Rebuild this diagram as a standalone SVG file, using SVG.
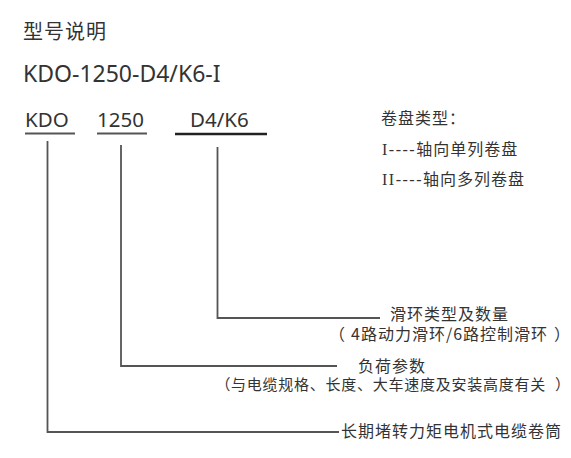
<svg xmlns="http://www.w3.org/2000/svg" width="571" height="458" viewBox="0 0 571 458">
<style>
text{fill:#333;font-family:"Noto Sans CJK SC","Noto Sans",sans-serif;}
.lat{font-family:"Noto Sans","Open Sans",sans-serif;}
.cn{font-size:16px;letter-spacing:1px;}
.cs{font-size:15px;letter-spacing:0.75px;}
.ser{font-family:"Liberation Serif",serif;letter-spacing:1.5px;}
.ns{letter-spacing:0;}
.ul{stroke:#555;stroke-width:2;fill:none;}
.ulb{stroke:#222;stroke-width:2.6;fill:none;}
.conn{stroke:#555;stroke-width:1.8;fill:none;}
</style>
<rect width="571" height="458" fill="#fff"/>
<g id="title"><text x="23" y="39" font-size="20" letter-spacing="1">型号说明</text></g>
<g id="model"><text class="lat" x="23" y="82" font-size="23">KDO-1250-D4/K6-I</text></g>
<g id="seg-kdo"><text class="lat" x="25" y="127" font-size="20.5">KDO</text><line class="ul" x1="25" y1="133.5" x2="75" y2="133.5"/></g>
<g id="seg-1250"><text class="lat" x="97" y="127" font-size="20.5">1250</text><line class="ul" x1="97" y1="133.5" x2="147" y2="133.5"/></g>
<g id="seg-d4k6"><text class="lat" x="190" y="127" font-size="20.5">D4/K6</text><line class="ulb" x1="175" y1="134" x2="267" y2="134"/></g>
<g id="legend">
<text class="cn" x="381" y="124">卷盘类型：</text>
<text class="cn" x="382" y="155"><tspan class="ser">I----</tspan>轴向单列卷盘</text>
<text class="cn" x="382" y="185"><tspan class="ser">II----</tspan>轴向多列卷盘</text>
</g>
<g id="desc-slipring">
<text class="cn" x="390" y="320">滑环类型及数量</text>
<text class="cn" y="340"><tspan x="329">（</tspan><tspan x="351">4路动力滑环/6路控制滑环</tspan><tspan class="ns" x="554">）</tspan></text>
</g>
<g id="desc-load">
<text class="cn" x="358" y="372">负荷参数</text>
<text class="cs" y="390"><tspan x="215.5">（</tspan><tspan x="231">与电缆规格、长度、大车速度及安装高度有关</tspan><tspan class="ns" x="555">）</tspan></text>
</g>
<g id="desc-type">
<text class="cn" x="341" y="437">长期堵转力矩电机式电缆卷筒</text>
</g>
<g id="connectors">
<polyline class="conn" points="47.5,141 47.5,432 339,432"/>
<polyline class="conn" points="121,145 121,366 337,366"/>
<polyline class="conn" points="217.5,147 217.5,318 380,318"/>
</g>
</svg>
